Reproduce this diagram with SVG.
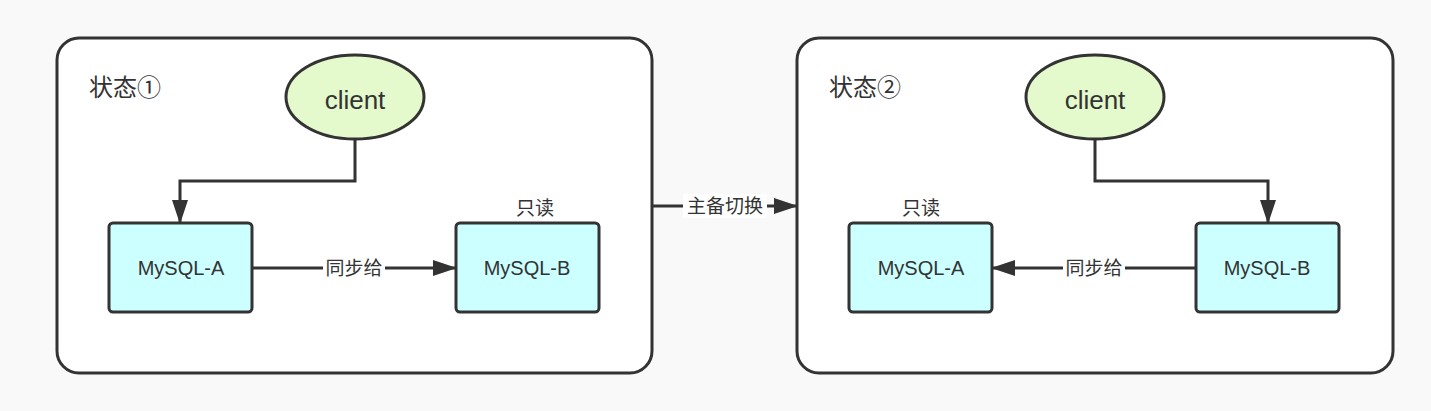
<svg xmlns="http://www.w3.org/2000/svg" width="1431" height="411" viewBox="0 0 1431 411">
<defs>
<marker id="ah" markerWidth="24" markerHeight="16" refX="23" refY="8" orient="auto" markerUnits="userSpaceOnUse">
<path d="M0,0 L24,8 L0,16 Z" fill="#333"/>
</marker>
<style>
.cont{fill:#fff;stroke:#333;stroke-width:3}
.db{fill:#ccffff;stroke:#333;stroke-width:3}
.cl{fill:#e4f9cc;stroke:#333;stroke-width:3}
.ln{fill:none;stroke:#333;stroke-width:3}
text{font-family:"Liberation Sans","Noto Sans CJK SC",sans-serif;fill:#333;text-anchor:middle}
.t1{font-size:24px;text-anchor:start}
.t2{font-size:26px}
.t3{font-size:20px}
.t4{font-size:19px}
</style>
</defs>
<rect width="1431" height="411" fill="#f9f9f9"/>
<g id="state1">
<rect class="cont" x="57" y="38" width="595" height="335" rx="22"/>
<text class="t1" x="89" y="96">状态①</text>
</g>
<g id="state2">
<rect class="cont" x="797" y="38" width="596" height="335" rx="22"/>
<text class="t1" x="829" y="96">状态②</text>
</g>
<g id="client1">
<ellipse class="cl" cx="355" cy="97" rx="69" ry="42"/>
<text class="t2" x="355" y="109">client</text>
</g>
<g id="mysqlA1">
<rect class="db" x="109" y="223" width="143" height="89" rx="4"/>
<text class="t3" x="181" y="275">MySQL-A</text>
</g>
<g id="mysqlB1">
<rect class="db" x="456" y="223" width="143" height="89" rx="4"/>
<text class="t3" x="527" y="275">MySQL-B</text>
<text class="t4" x="535" y="215">只读</text>
</g>
<g id="client2">
<ellipse class="cl" cx="1095" cy="97" rx="69" ry="42"/>
<text class="t2" x="1095" y="109">client</text>
</g>
<g id="mysqlA2">
<rect class="db" x="849" y="223" width="143" height="89" rx="4"/>
<text class="t3" x="921" y="275">MySQL-A</text>
<text class="t4" x="921" y="215">只读</text>
</g>
<g id="mysqlB2">
<rect class="db" x="1196" y="223" width="143" height="89" rx="4"/>
<text class="t3" x="1267" y="275">MySQL-B</text>
</g>
<g id="connectors">
<path class="ln" d="M355,139 V181 H180 V223" marker-end="url(#ah)"/>
<path class="ln" d="M252,268 H456" marker-end="url(#ah)"/>
<rect x="323" y="256" width="62" height="24" fill="#fff"/>
<text class="t4" x="354" y="275">同步给</text>
<path class="ln" d="M1095,139 V181 H1268 V223" marker-end="url(#ah)"/>
<path class="ln" d="M1196,268 H992" marker-end="url(#ah)"/>
<rect x="1063" y="256" width="62" height="24" fill="#fff"/>
<text class="t4" x="1094" y="275">同步给</text>
<path class="ln" d="M652,206 H797" marker-end="url(#ah)"/>
<rect x="683" y="194" width="84" height="24" fill="#fff"/>
<text class="t4" x="725" y="213">主备切换</text>
</g>
</svg>
